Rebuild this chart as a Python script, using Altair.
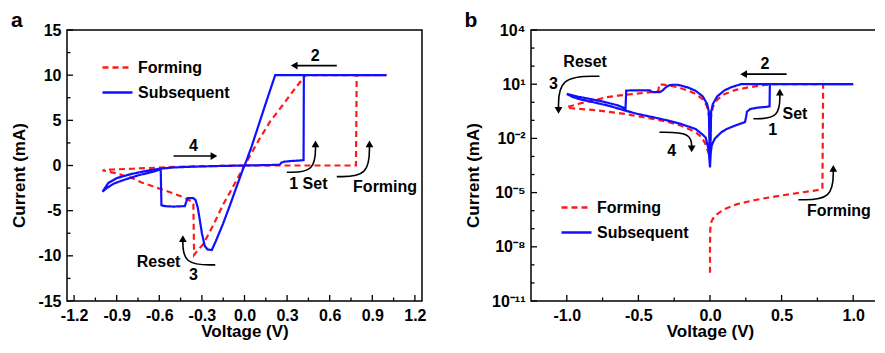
import altair as alt
import pandas as pd

FONT = "Liberation Sans"

# ---------------- data (Voltage V, Current mA), in sweep order ----------------
form_v = [0.0, 0.0, 0.002, 0.01, 0.03, 0.05, 0.1, 0.19, 0.3, 0.42, 0.55, 0.65, 0.72, 0.77, 0.785,
          0.79, 1.0, 0.43, 0.35, 0.27, 0.18, 0.1, 0.05, 0.02, 0.005, 0.0,
          -0.005, -0.02, -0.05, -0.1, -0.15, -0.22, -0.29, -0.33, -0.355,
          -0.36, -0.37, -0.44, -0.535, -0.63, -0.72, -0.8, -0.91, -0.97, -1.0,
          -0.98, -0.93, -0.79, -0.6, -0.49, -0.4, -0.3, -0.2, -0.1, -0.06, -0.035, -0.015, 0.0]
form_i = [3.7e-10, 1e-8, 1e-7, 2.5e-7, 4.8e-7, 6.5e-7, 1.2e-6, 2.3e-6, 3.7e-6, 5.5e-6, 8e-6, 1.05e-5, 1.25e-5, 1.45e-5, 1.6e-5,
          10, 10, 10, 8.4, 6.7, 4.86, 2.8, 1.4, 0.55, 0.13, 1e-3,
          -0.14, -0.58, -1.45, -2.9, -4.3, -6.6, -8.7, -9.4, -9.9,
          -4.3, -4.0, -3.45, -2.9, -2.4, -1.9, -1.35, -0.85, -0.62, -0.55,
          -0.48, -0.44, -0.36, -0.23, -0.16, -0.12, -0.085, -0.05, -0.022, -0.012, -0.0055, -0.002, -1e-3]

sub_v = [0.0, 0.005, 0.012, 0.023, 0.035, 0.058, 0.08, 0.116, 0.186, 0.244, 0.252, 0.258, 0.28, 0.33, 0.396, 0.416,
         0.418, 1.0, 0.216, 0.15, 0.1, 0.05, 0.02, 0.008, 0.0,
         -0.008, -0.02, -0.05, -0.1, -0.15, -0.2, -0.23, -0.26, -0.28, -0.3, -0.315, -0.33, -0.345, -0.36,
         -0.4, -0.41, -0.42, -0.5, -0.56, -0.585,
         -0.59, -0.65, -0.75, -0.85, -0.92, -0.97, -1.0,
         -0.96, -0.9, -0.8, -0.7, -0.6, -0.5, -0.4, -0.3, -0.2, -0.1, -0.05, -0.03, -0.01, 0.0]
sub_i = [2.5e-4, 0.0015, 0.004, 0.0065, 0.01, 0.015, 0.022, 0.033, 0.055, 0.08, 0.15, 0.3, 0.42, 0.5, 0.56, 0.6,
         10, 10, 10, 6.9, 4.5, 2.1, 0.8, 0.3, 2.5e-4,
         -0.3, -0.8, -2.1, -4.3, -6.4, -8.3, -9.35, -9.3, -8.9, -7.5, -6.0, -4.6, -3.8, -3.62,
         -3.62, -4.0, -4.5, -4.55, -4.5, -4.4,
         -0.45, -0.7, -1.1, -1.6, -2.0, -2.5, -2.9,
         -1.95, -1.4, -0.95, -0.62, -0.36, -0.22, -0.15, -0.1, -0.062, -0.033, -0.016, -0.011, -0.0025, -2.5e-4]

series_names = ["Forming", "Subsequent"]
series_colors = ["#ff1a1a", "#1010ff"]
series_dash = [[6, 4], [1, 0]]

# axis ticks
xa_major = [-1.2, -0.9, -0.6, -0.3, 0.0, 0.3, 0.6, 0.9, 1.2]
xa_minor = [-1.05, -0.75, -0.45, -0.15, 0.15, 0.45, 0.75, 1.05]
ya_major = [-15, -10, -5, 0, 5, 10, 15]
ya_minor = [-12.5, -7.5, -2.5, 2.5, 7.5, 12.5]
xb_major = [-1.0, -0.5, 0.0, 0.5, 1.0]
xb_minor = [-0.75, -0.25, 0.25, 0.75]
yb_major = [1e4, 1e1, 1e-2, 1e-5, 1e-8, 1e-11]
yb_minor = [1e3, 1e2, 1e0, 1e-1, 1e-3, 1e-4, 1e-6, 1e-7, 1e-9, 1e-10]

# annotations panel a
a_text = ["2", "4", "1 Set", "Forming", "Reset", "3"]
a_text_v = [0.498, -0.359, 0.45, 0.99, -0.605, -0.359]
a_text_i = [12.17, 2.16, -2.05, -2.34, -10.64, -12.1]
a_arrows = [
    ([0.65, 0.37], [11.06, 11.06]),
    ([-0.5, -0.23], [1.05, 1.05]),
    ([0.298, 0.50, 0.50], [-0.75, -0.75, 2.4]),
    ([0.65, 0.88, 0.88], [-1.23, -1.23, 2.4]),
    ([-0.206, -0.434, -0.434], [-11.0, -11.0, -8.1]),
]
a_head_v = [0.35, -0.215, 0.50, 0.88, -0.434]
a_head_i = [11.06, 1.05, 2.4, 2.4, -8.1]
a_head_shape = ["triangle-left", "triangle-right", "triangle-up", "triangle-up", "triangle-up"]

# annotations panel b
b_text = ["Reset", "3", "2", "Set", "1", "4", "Forming"]
b_text_v = [-0.872, -1.093, 0.384, 0.593, 0.4376, -0.267, 0.90]
b_text_i = [174, 10.8, 138, 0.23, 0.0278, 0.0021, 1e-6]
b_arrows = [
    ([0.535, 0.25], [36, 36]),
    ([-0.772, -1.058, -1.058], [27.7, 27.7, 0.36]),
    ([0.303, 0.488, 0.488], [0.123, 0.123, 3.6]),
    ([-0.353, -0.128, -0.128], [0.022, 0.022, 0.0026]),
    ([0.617, 0.861, 0.861], [4e-6, 4e-6, 2.2e-4]),
]
b_head_v = [0.235, -1.058, 0.488, -0.128, 0.861]
b_head_i = [36, 0.36, 3.6, 0.0026, 2.2e-4]
b_head_shape = ["triangle-left", "triangle-down", "triangle-up", "triangle-down", "triangle-up"]

# ---------------- tables ----------------
rows = []
for name, vs, cs in (("Forming", form_v, form_i), ("Subsequent", sub_v, sub_i)):
    for k, (v, c) in enumerate(zip(vs, cs)):
        rows.append({"series": name, "V": v, "I": c, "absI": abs(c), "k": k})
curves = pd.DataFrame(rows)


def arrow_df(arrows, ycol):
    r = []
    for aid, (vs, cs) in enumerate(arrows):
        for k, (v, c) in enumerate(zip(vs, cs)):
            r.append({"aid": aid, "k": k, "V": v, ycol: c})
    return pd.DataFrame(r)


W_A, W_B, H = 355, 358, 271
xa_scale = alt.Scale(domain=[-1.25, 1.25], nice=False, zero=False)
ya_scale = alt.Scale(domain=[-15, 15], nice=False, zero=False)
xb_scale = alt.Scale(domain=[-1.25, 1.25], nice=False, zero=False)
yb_scale = alt.Scale(type="log", domain=[1e-11, 1e4], nice=False)

MINUS_FIX = "replace(format(datum.value, '.1f'), '\u2212', '-')"


def legend(lx, ly):
    return alt.Legend(title=None, orient="none", legendX=lx, legendY=ly, symbolType="stroke",
                      symbolSize=900, symbolStrokeWidth=2.5, labelFont=FONT, labelFontSize=16,
                      labelFontWeight="bold", labelColor="black", labelOffset=4, rowPadding=-8,
                      padding=0)


def tick_layers(xscale, yscale, ycol, xmaj, xmin, ymaj, ymin):
    out = []
    for vals, ln in ((xmaj, 6), (xmin, 3.5)):
        out.append(alt.Chart(pd.DataFrame({"V": vals})).mark_rule(color="black", strokeWidth=1.3).encode(
            x=alt.X("V:Q", scale=xscale), y=alt.value(H), y2=alt.value(H - ln)))
    for vals, ln in ((ymaj, 6), (ymin, 3.5)):
        out.append(alt.Chart(pd.DataFrame({ycol: vals})).mark_rule(color="black", strokeWidth=1.3).encode(
            y=alt.Y(f"{ycol}:Q", scale=yscale), x=alt.value(0), x2=alt.value(ln)))
    return out


def annot_layers(xscale, yscale, ycol, tx, tv, ti, arrows, hv, hi, hs):
    tdf = pd.DataFrame({"label": tx, "V": tv, ycol: ti})
    text = alt.Chart(tdf).mark_text(font=FONT, fontSize=16, fontWeight="bold", color="black",
                                    align="center", baseline="middle").encode(
        x=alt.X("V:Q", scale=xscale), y=alt.Y(f"{ycol}:Q", scale=yscale), text="label:N")
    adf = arrow_df(arrows, ycol)
    lines = alt.Chart(adf).mark_line(color="black", strokeWidth=1.6, interpolate="basis").encode(
        x=alt.X("V:Q", scale=xscale), y=alt.Y(f"{ycol}:Q", scale=yscale),
        detail="aid:N", order="k:Q")
    hdf = pd.DataFrame({"V": hv, ycol: hi, "shape": hs})
    heads = alt.Chart(hdf).mark_point(filled=True, color="black", size=60, opacity=1).encode(
        x=alt.X("V:Q", scale=xscale), y=alt.Y(f"{ycol}:Q", scale=yscale),
        shape=alt.Shape("shape:N", scale=None))
    return [lines, heads, text]


def series_enc(lx, ly):
    lg = legend(lx, ly)
    return dict(
        color=alt.Color("series:N", scale=alt.Scale(domain=series_names, range=series_colors), legend=lg),
        strokeDash=alt.StrokeDash("series:N", scale=alt.Scale(domain=series_names, range=series_dash), legend=lg),
        order=alt.Order("k:Q"),
    )


# ---------------- panel a ----------------
lines_a = alt.Chart(curves).mark_line(strokeWidth=2.2).encode(
    x=alt.X("V:Q", scale=xa_scale,
            axis=alt.Axis(values=xa_major, labelExpr=MINUS_FIX, title="Voltage (V)", ticks=False, tickSize=0,
                          labelPadding=6, titlePadding=0, domain=False, grid=False)),
    y=alt.Y("I:Q", scale=ya_scale,
            axis=alt.Axis(values=ya_major, labelExpr="replace(datum.label, '\u2212', '-')", title="Current (mA)",
                          ticks=False, tickSize=0, labelPadding=6, titlePadding=9, titleY=145,
                          domain=False, grid=False)),
    **series_enc(34, 21),
)

panel_a = alt.layer(
    lines_a,
    *annot_layers(xa_scale, ya_scale, "I", a_text, a_text_v, a_text_i, a_arrows, a_head_v, a_head_i, a_head_shape),
    *tick_layers(xa_scale, ya_scale, "I", xa_major, xa_minor, ya_major, ya_minor),
).properties(
    width=W_A, height=H,
    title=alt.TitleParams("a", anchor="start", font=FONT, fontSize=21, fontWeight="bold", color="black", offset=-9),
    view=alt.ViewBackground(stroke="black", strokeWidth=1.5),
)

# ---------------- panel b ----------------
YB_LABELS = ("datum.value > 1000 ? '10\u2074' : datum.value > 1 ? '10\u00b9' : datum.value > 0.001 ? '10\u207b\u00b2' : "
             "datum.value > 0.000001 ? '10\u207b\u2075' : datum.value > 0.000000001 ? '10\u207b\u2078' : '10\u207b\u00b9\u00b9'")

lines_b = alt.Chart(curves).mark_line(strokeWidth=2.2).encode(
    x=alt.X("V:Q", scale=xb_scale,
            axis=alt.Axis(values=xb_major, labelExpr=MINUS_FIX, title="Voltage (V)", ticks=False, tickSize=0,
                          labelPadding=6, titlePadding=0, domain=False, grid=False)),
    y=alt.Y("absI:Q", scale=yb_scale,
            axis=alt.Axis(values=yb_major, labelExpr=YB_LABELS, title="Current (mA)", ticks=False, tickSize=0,
                          labelPadding=6, titlePadding=9, titleY=145, domain=False, grid=False)),
    **series_enc(29, 161),
)

panel_b = alt.layer(
    lines_b,
    *annot_layers(xb_scale, yb_scale, "absI", b_text, b_text_v, b_text_i, b_arrows, b_head_v, b_head_i, b_head_shape),
    *tick_layers(xb_scale, yb_scale, "absI", xb_major, xb_minor, yb_major, yb_minor),
).properties(
    width=W_B, height=H,
    title=alt.TitleParams("b", anchor="start", font=FONT, fontSize=21, fontWeight="bold", color="black", offset=-9),
    view=alt.ViewBackground(stroke="black", strokeWidth=1.5),
)

chart = alt.hconcat(panel_a, panel_b, spacing=36).resolve_scale(
    color="independent", strokeDash="independent"
).resolve_legend(
    color="independent", strokeDash="independent"
).properties(
    padding={"left": 2, "top": 1, "right": -15, "bottom": 0},
    background="white",
).configure_axis(
    labelFont=FONT, labelFontSize=16, labelFontWeight="bold", labelColor="black",
    titleFont=FONT, titleFontSize=17, titleFontWeight="bold", titleColor="black",
).configure_view(stroke="black")

chart.save("out.html", embed_options={"renderer": "svg", "actions": False})
